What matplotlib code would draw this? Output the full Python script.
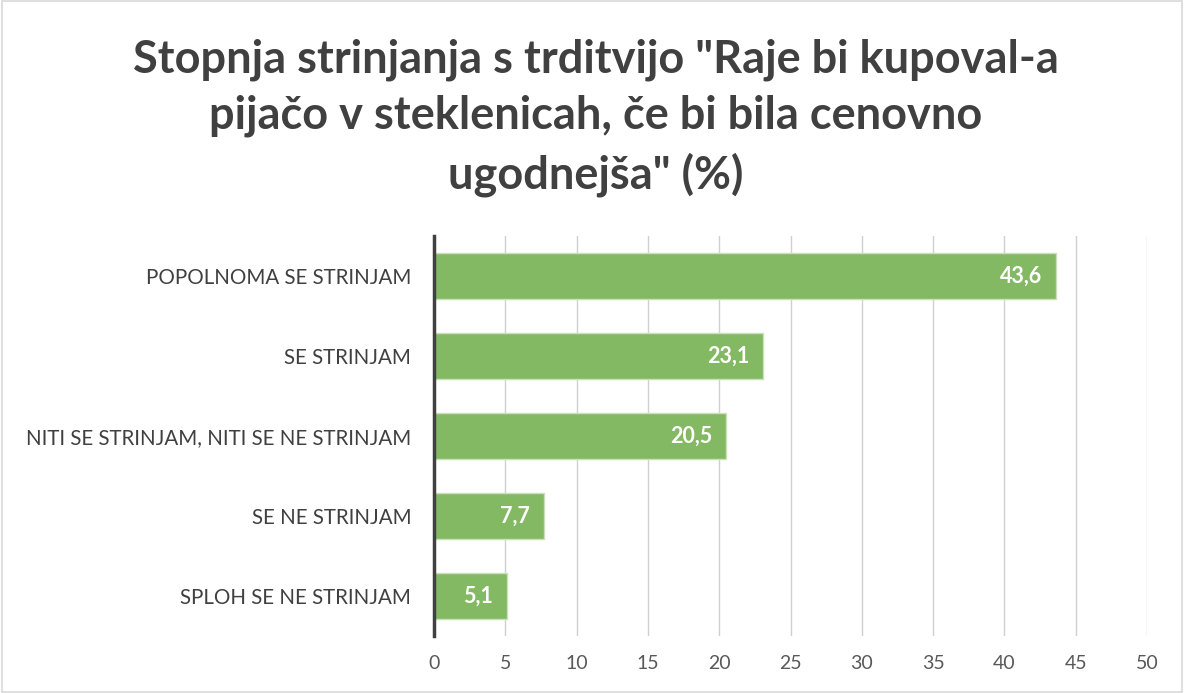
import matplotlib
matplotlib.use("Agg")
import matplotlib.pyplot as plt
from matplotlib.patches import Rectangle

plt.rcParams["font.family"] = ["Lato", "DejaVu Sans"]

categories = [
    "POPOLNOMA SE STRINJAM",
    "SE STRINJAM",
    "NITI SE STRINJAM, NITI SE NE STRINJAM",
    "SE NE STRINJAM",
    "SPLOH SE NE STRINJAM",
]
values = [43.6, 23.1, 20.5, 7.7, 5.1]
xticks = list(range(0, 51, 5))

TITLE = 'Stopnja strinjanja s trditvijo "Raje bi kupoval-a\npijačo v steklenicah, če bi bila cenovno\nugodnejša" (%)'
BAR = "#84b963"
TEXT = "#404040"

fig = plt.figure(figsize=(11.84, 6.93), dpi=100)
ax = fig.add_axes([0.3666, 0.0823, 0.6022, 0.5772])

pos = list(range(len(categories)))
ax.barh(pos, values, height=0.58, color=BAR, edgecolor="#c9e0b8", linewidth=1.0, zorder=3)
for y, v in zip(pos, values):
    ax.text(v - 0.95, y, f"{v:.1f}".replace(".", ","), ha="right", va="center",
            color="white", fontsize=15.5, fontweight="bold", zorder=4)

ax.set_ylim(len(categories) - 0.5, -0.5)
ax.set_xlim(0, 50)
ax.set_yticks(pos)
ax.set_yticklabels(categories, fontsize=14.8, color=TEXT)
ax.set_xticks(xticks)
ax.set_xticklabels([str(t) for t in xticks], fontsize=14, color="#595959")
ax.tick_params(axis="y", length=0, pad=16.5)
ax.tick_params(axis="x", length=0, pad=14)
ax.grid(axis="x", color="#d0d0d0", linewidth=1.0, zorder=0)
for s in ("top", "right", "bottom"):
    ax.spines[s].set_visible(False)
ax.spines["left"].set_color("#404040")
ax.spines["left"].set_linewidth(2.5)
ax.spines["left"].set_zorder(5)

fig.text(0.503, 0.945, TITLE, ha="center", va="top", fontsize=32.5,
         fontweight="bold", color=TEXT, linespacing=1.41)

fig.patches.append(Rectangle((0.002, 0.002), 0.996, 0.996, transform=fig.transFigure,
                             fill=False, edgecolor="#d9d9d9", linewidth=1.2))

fig.savefig("out.png", dpi=100)
